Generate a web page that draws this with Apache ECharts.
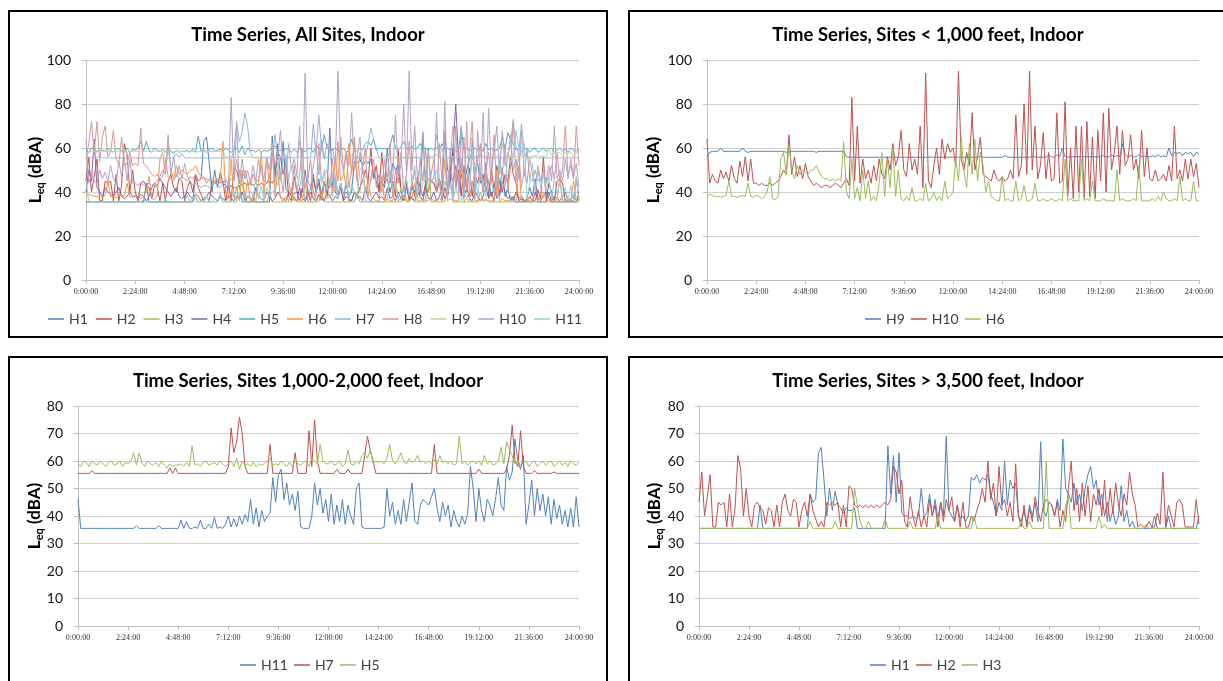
<!DOCTYPE html>
<html><head><meta charset="utf-8">
<script src="https://cdn.jsdelivr.net/npm/echarts@6/dist/echarts.min.js"></script>
<style>
html,body{margin:0;padding:0;background:#fff;overflow:hidden;width:1223px;height:681px;}
.panel{position:absolute;width:600px;height:328px;}
.frame{position:absolute;width:600px;height:328px;box-sizing:border-box;border:2px solid #000;pointer-events:none;}
</style>
</head><body>
<div class="panel" id="p1" style="left:8px;top:10px"></div><div class="frame" style="left:8px;top:10px"></div>
<div class="panel" id="p2" style="left:628px;top:10px"></div><div class="frame" style="left:628px;top:10px"></div>
<div class="panel" id="p3" style="left:8px;top:356px"></div><div class="frame" style="left:8px;top:356px"></div>
<div class="panel" id="p4" style="left:628px;top:356px"></div><div class="frame" style="left:628px;top:356px"></div>
<script>
// x tick labels (every 2:24:00 = 144 minutes)
const TICK_LABELS = ['0:00:00','2:24:00','4:48:00','7:12:00','9:36:00','12:00:00','14:24:00','16:48:00','19:12:00','21:36:00','24:00:00'];
const STEP_MIN = 8; // readings taken every 8 minutes, 181 readings from 0:00 to 24:00

const H1 = [
35.5,35.5,35.5,35.5,35.5,35.5,35.5,35.5,35.5,35.5,35.5,35.5,35.5,35.5,35.5,35.5,35.5,35.5,
35.5,35.5,35.5,35.5,44,35.5,35.5,35.5,35.5,35.5,35.5,35.5,35.5,35.5,35.5,35.5,35.5,35.5,
35.5,35.5,35.5,35.5,48,45,46,63,65,53,40,50,42,49,44,43,41,43,
42,42,43,35.5,35.5,35.5,35.5,35.5,35.5,35.5,35.5,35.5,35.5,35.5,65.5,48,62,45,
63,41,40,40,39,40,39,40,50,40,41,48,40,46,39,45,40,69,
42,40,38,44,39,40,38,40,54,53,55,52,54,53,55,48,45,40,
45,42,60,44,53,50,52,40,38,42,37,44,40,45,38,67,42,40,
45,44,40,46,42,68,50,48,45,52,44,48,42,50,55,58,50,53,
44,48,40,45,38,42,37,40,51,38,42,36,38,35.5,35.5,35.5,35.5,35.5,
35.5,35.5,40,35.5,35.5,35.5,35.5,40,35.5,35.5,35.5,35.5,35.5,35.5,35.5,35.5,35.5,35.5,40];
const H2 = [
45,56,40,47,55,36,36,45,44,45,36,48,36,43,62,57,40,50,
40,36,44,45,43,42,37,43,42,36,44,36,45,48,42,40,46,45,
36,42,45,40,48,42,39,36,38,36,45,44,45,44,45,36,44,36,
51,50,44,43,44,43,44,43,44,43,44,43,44,45,44,46,58,56,
48,53,38,36,47,40,36,42,36,40,36,46,40,44,36,45,38,46,
42,47,38,44,36,45,36,36,40,38,42,45,50,45,60,46,52,40,
58,44,46,40,45,38,59,40,36,44,36,43,38,47,42,38,44,46,
45,44,40,45,36,42,38,50,60,42,50,38,52,40,51,38,48,44,
50,40,53,38,50,41,52,44,40,48,44,56,48,44,36,37,36,36,
38,36,36,41,37,56,36,44,40,36,45,46,44,36,36,36,36,46,37];
const H3 = [
35.5,35.5,35.5,35.5,35.5,35.5,35.5,35.5,35.5,35.5,35.5,35.5,35.5,35.5,35.5,35.5,35.5,35.5,
35.5,35.5,35.5,35.5,35.5,35.5,35.5,35.5,35.5,35.5,35.5,35.5,35.5,35.5,35.5,35.5,35.5,35.5,
35.5,35.5,35.5,35.5,38,35.5,35.5,35.5,35.5,35.5,35.5,35.5,35.5,38,35.5,35.5,35.5,35.5,
35.5,35.5,50,44,38,35.5,35.5,38,35.5,35.5,35.5,35.5,35.5,39,35.5,35.5,35.5,35.5,
35.5,35.5,35.5,35.5,38,35.5,35.5,35.5,35.5,35.5,35.5,35.5,35.5,35.5,40,35.5,35.5,35.5,
35.5,35.5,35.5,35.5,35.5,35.5,35.5,35.5,35.5,40,35.5,35.5,35.5,35.5,35.5,35.5,35.5,35.5,
35.5,35.5,35.5,35.5,35.5,35.5,35.5,35.5,38,35.5,35.5,38,35.5,35.5,35.5,35.5,35.5,60,
35.5,35.5,35.5,35.5,35.5,35.5,44,47,35.5,35.5,35.5,35.5,35.5,35.5,35.5,35.5,35.5,35.5,
40,35.5,37,35.5,35.5,35.5,35.5,35.5,35.5,35.5,35.5,35.5,35.5,35.5,35.5,35.5,35.5,37,
35.5,35.5,35.5,35.5,35.5,35.5,35.5,35.5,35.5,35.5,35.5,35.5,35.5,35.5,35.5,35.5,35.5,35.5,35.5];
const H4 = [
40,50,45,64,42,40,38,42,40,39,38,40,42,38,37,38,40,38,
38,37,39,38,36,38,42,44,43,46,44,42,40,38,40,42,38,37,
38,40,38,37,39,38,36,37,38,40,38,37,36,38,37,36,38,37,
36,38,37,40,36,38,37,36,42,38,37,36,40,38,36,37,40,38,
37,36,40,38,37,36,42,37,36,38,40,37,36,39,37,36,40,38,
36,38,37,42,36,38,37,36,40,37,38,36,42,37,36,38,40,37,
38,36,42,37,38,36,40,37,36,45,38,37,36,40,38,36,42,37,
37,40,36,38,42,37,38,45,60,80,55,40,38,42,37,36,40,38,
36,38,42,37,40,36,48,38,45,40,37,38,36,40,37,38,36,37,
42,38,46,37,36,38,40,37,36,38,37,36,38,40,36,37,38,36,37];
const H5 = [
59,58,60,59.5,58,60,59,58.5,60,59,58,59.5,60,58.5,59,60,58,59.5,
59,60,63,58.5,63,59,58,60,59,58.5,59.5,58,60,58.5,57.5,59,58,58.5,
58.5,59,58,59.5,58,65.5,58.5,59,58,59.5,60,58.5,59,59.5,58.5,60,59,58,
59,60,58,61,57,60,58.5,59,58,59.5,58,59,58.5,59,60,61,58.5,59,
58.5,60,59,58,59.5,58,60,59,58.5,59.5,60,58,61,60,59,66,60,59,
59,60,58.5,59,60,58,59,64,59,58.5,60,59,62,63,61,64,59,60,
59.5,60,59,61,66,60,59,60.5,63,60,59,61,59.5,60,62,59.5,60,59,
60,59,60.5,59,62,59.5,60,59,60,58.5,59,69,59,60,58.5,59.5,60,59,
60,58.5,62,59,60,58.5,59,60,65,59,67,64,62,59,60,58.5,59.5,60,
58,59.5,60,58,59,60,58.5,59.5,60,58,59,60,58.5,59.5,58,60,59,58.5,59.5];
const H6 = [
38,39,38.5,38,38,37.5,38,38.5,45,38,38,37.5,38,38.5,38,44,38,37.5,
38.5,38,37,38,40,47,37,36.5,38,55,58,48,61,50,46,52,48,50,
49,48,50,50,52,49,47,46,46,45,46,45,46,45,63,40,37,55,
37,42,36,50,37,45,36,38,36,44,58,38,55,42,60,38,50,37,
36,38,36,42,36,36,37,36,44,36,37,40,36,38,36,45,37,38,
40,55,45,65,50,42,62,48,64,45,58,52,40,45,38,37,36,36,
47,36,37,36,36,45,36,37,43,36,36,37,44,36,36,37,36,36,
37,36,36,37,36,55,36,37,36,36,36,55,36,37,36,45,36,36,
36,37,36,36,36,36,50,36,37,36,36,36,37,36,52,36,36,36,
36,37,36,38,36,40,37,36,36,37,36,47,36,37,36,36,45,36,36];
const H7 = [
55.5,55.5,55.5,55.5,55.5,56.5,55.5,55.5,55.5,55.5,55.5,55.5,55.5,55.5,55.5,55.5,55.5,55.5,
55.5,55.5,55.5,55.5,55.5,55.5,55.5,55.5,55.5,55.5,55.5,55.5,55.5,55.5,55.5,57.5,55.5,57.5,
55.5,55.5,55.5,55.5,55.5,55.5,55.5,55.5,55.5,55.5,55.5,55.5,55.5,55.5,55.5,55.5,55.5,55.5,
58,72,63,67,76,70,58,55.5,55.5,55.5,55.5,55.5,55.5,55.5,55.5,66,55.5,55.5,
55.5,55.5,55.5,55.5,55.5,55.5,63,55.5,55.5,55.5,55.5,71,58,75,60,55.5,55.5,55.5,
55.5,55.5,55.5,57,55.5,55.5,55.5,57,55.5,55.5,55.5,55.5,55.5,62,69,64,60,55.5,
55.5,55.5,55.5,55.5,55.5,55.5,55.5,55.5,55.5,55.5,55.5,55.5,55.5,55.5,55.5,55.5,55.5,55.5,
55.5,55.5,66,55.5,55.5,55.5,55.5,55.5,55.5,55.5,55.5,55.5,55.5,55.5,55.5,55.5,55.5,55.5,
57,55.5,55.5,55.5,55.5,55.5,55.5,55.5,55.5,55.5,57,62,73,60,58,71,58,55.5,
55.5,55.5,56.5,55.5,55.5,55.5,55.5,55.5,55.5,56,55.5,55.5,55.5,55.5,55.5,55.5,55.5,55.5,55.5];
const H8 = [
55,62,72,58,72,54,65,70,56,58,68,55,53,65,52,53,58,52,
53,52,69,53,52,50,48,47,48,46,47,55,47,46,45,48,46,47,
46,45,47,46,48,45,46,47,44,46,45,44,46,45,44,45,44,46,
45,55,44,46,50,45,43,48,44,46,52,45,44,47,58,45,43,48,
40,56,45,38,52,40,48,60,42,45,55,40,38,62,44,48,50,42,
55,40,63,45,48,58,42,50,65,44,40,52,60,38,46,55,42,48,
40,55,45,62,38,50,44,58,40,48,63,42,50,38,55,45,60,40,
48,55,40,62,45,68,38,55,70,42,60,48,65,40,58,72,45,55,
62,40,50,58,44,66,38,55,48,62,40,52,72,45,58,42,50,44,
55,48,42,52,45,50,44,48,52,46,58,45,50,70,48,52,46,70,52];
const H9 = [
56,58,58.5,58.5,58.5,60,58.5,58.5,58.5,58.5,58.5,58.5,58.5,60,58.5,58,58.5,58.5,
58.5,58.5,58.5,58.5,58.5,58.5,58.5,58.5,58.5,58.5,58.5,58,58.5,58.5,58.5,58.5,58.5,58.5,
58.5,58.5,58.5,58.5,58,58.5,58.5,58.5,58.5,58.5,58.5,58.5,58.5,58.5,58.5,56,55.8,55.8,
55.8,55.8,55.8,55.8,55.8,55.8,55.8,55.8,55.8,55.8,55.8,55.8,55.8,55.8,55.8,55.8,55.8,55.8,
55.8,55.8,55.8,55.8,55.8,55.8,55.8,55.8,55.8,55.8,55.8,55.8,55.8,55.8,55.8,55.8,55.8,55.8,
55.8,55.8,55.8,55.8,55.8,55.8,55.8,55.8,55.8,55.8,56.3,55.8,55.8,55.8,55.8,55.8,55.8,55.8,
55.8,56.5,55.8,55.8,55.8,55.8,55.8,55.8,55.8,55.8,55.8,56.3,55.8,55.8,55.8,55.8,55.8,57,
56,55.8,57,56,60,56,55.8,56,56,56,56,56,56,56,56,56,56,56,
56,56.5,56,56,57,56,56.5,56,62,57,56,56.5,56,56,57,56,56.5,56,
56,56.5,56,57,56,56.5,56,60,56.5,58,57.5,58,56.5,58,57.5,58,56,58,57.5];
const H10 = [
64,44,48,45,44,50,46,49,45,52,46,44,54,47,56,45,55,44,
44,43,44,43,43,44,43,44,45,47,50,48,66,48,56,47,52,46,
53,47,45,43,44,43,42,43,43,42,43,44,43,42,44,46,43,83,
45,70,44,55,46,50,44,52,45,55,48,46,56,50,62,52,56,68,
50,47,62,50,55,48,70,42,94,45,42,52,60,48,64,55,62,58,
60,52,95,55,50,58,52,76,50,56,65,48,47,46,45,50,46,45,
47,45,46,50,46,75,47,52,80,48,95,50,70,46,52,67,46,58,
45,46,76,44,45,81,38,60,37,70,40,70,37,72,38,65,37,68,
45,76,40,78,50,58,70,48,68,52,55,66,50,55,46,68,47,60,
46,45,50,45,46,48,45,52,45,70,46,50,45,55,46,55,47,53,42];
const H11 = [
46,35.5,35.5,35.5,35.5,35.5,35.5,35.5,35.5,35.5,35.5,35.5,35.5,35.5,35.5,35.5,35.5,35.5,
35.5,35.5,35.5,36.5,35.5,35.5,35.5,35.5,35.5,35.5,35.5,36.5,35.5,35.5,35.5,35.5,35.5,35.5,
35.5,38.5,35.5,38,35.5,35.5,36,35.5,38.5,35.5,35.5,37,35.5,39.5,35.5,36,35.5,37,
40,36,39,36,40,37,40.5,38,46,37,43,36,42,38,40,41,54,45,
55,57,46,52,44,48,42,49,36,35.5,35.5,35.5,40,52,44,50,41,46,
38,48,37,44,38,46,37,44,40,37,50,52,36,35.5,35.5,35.5,35.5,35.5,
35.5,35.5,36,50,40,45,37,42,37,46,38,45,52,38,37,44,46,45,
44,47,50,43,38,45,40,44,36,42,38,36,40,37,41,58,50,38,
50,42,38,46,44,40,46,54,44,42,58,53,56,68,60,57,62,37,
44,53,40,50,42,48,40,47,37,46,39,44,37,42,36,43,36,47,36];

const SERIES = {H1,H2,H3,H4,H5,H6,H7,H8,H9,H10,H11};

const PANELS = [
  {id:'p1', title:'Time Series, All Sites, Indoor',
   names:['H1','H2','H3','H4','H5','H6','H7','H8','H9','H10','H11'],
   colors:['#4F81BD','#C0504D','#9BBB59','#8064A2','#4BACC6','#F79646','#95B3D7','#D99694','#C3D69B','#B3A2C7','#93CDDD'],
   ymax:100, yint:20, grid:{left:78, top:50, width:493, height:220}, nameGap:40, legendLeft:40, legendGap:8},
  {id:'p2', title:'Time Series, Sites < 1,000 feet, Indoor',
   names:['H9','H10','H6'], colors:['#4F81BD','#C0504D','#9BBB59'],
   ymax:100, yint:20, grid:{left:79, top:50, width:492, height:220}, nameGap:43, legendLeft:237, legendGap:6},
  {id:'p3', title:'Time Series, Sites 1,000-2,000 feet, Indoor',
   names:['H11','H7','H5'], colors:['#4F81BD','#C0504D','#9BBB59'],
   ymax:80, yint:10, grid:{left:70, top:50, width:501, height:220}, nameGap:33, legendLeft:232, legendGap:6},
  {id:'p4', title:'Time Series, Sites > 3,500 feet, Indoor',
   names:['H1','H2','H3'], colors:['#4F81BD','#C0504D','#9BBB59'],
   ymax:80, yint:10, grid:{left:71, top:50, width:500, height:220}, nameGap:34, legendLeft:242, legendGap:6}
];

function toPairs(arr){ return arr.map((v,i)=>[i*STEP_MIN, v]); }

PANELS.forEach(p=>{
  const chart = echarts.init(document.getElementById(p.id), null, {renderer:'canvas'});
  chart.setOption({
    animation:false,
    backgroundColor:'transparent',
    title:{text:p.title, left:'center', top:16, padding:0,
      textStyle:{fontFamily:'Lato', fontWeight:'bold', fontSize:18.5, color:'#000'}},
    legend:{left:p.legendLeft, top:302, padding:0, itemGap:p.legendGap, icon:'rect', itemWidth:16, itemHeight:1.5,
      data:p.names, textStyle:{fontFamily:'Lato', fontSize:14, color:'#404040'}},
    grid:Object.assign({outerBoundsMode:'none', containLabel:false}, p.grid),
    xAxis:{type:'value', min:0, max:1440, interval:144,
      axisLine:{show:true, lineStyle:{color:'#bfbfbf', width:1}},
      axisTick:{show:true, length:4, lineStyle:{color:'#bfbfbf'}},
      splitLine:{show:false},
      axisLabel:{showMinLabel:true, showMaxLabel:true, margin:8, fontFamily:'Liberation Serif', fontSize:8, color:'#333',
        formatter:v=>TICK_LABELS[Math.round(v/144)]}},
    yAxis:{type:'value', min:0, max:p.ymax, interval:p.yint,
      axisLine:{show:true, lineStyle:{color:'#bfbfbf', width:1}},
      axisTick:{show:true, length:4, lineStyle:{color:'#bfbfbf'}},
      splitLine:{show:true, lineStyle:{color:'#d0d0d0', width:1}},
      axisLabel:{margin:15, fontFamily:'Lato', fontSize:14, color:'#111'},
      name:'{a|L}{b|eq}{a| (dBA)}', nameLocation:'middle', nameGap:p.nameGap, nameRotate:90, nameMoveOverlap:false,
      nameTextStyle:{rich:{
        a:{fontFamily:'Lato', fontWeight:'bold', fontSize:17, color:'#000', lineHeight:20},
        b:{fontFamily:'Lato', fontWeight:'bold', fontSize:11, color:'#000', lineHeight:7, verticalAlign:'bottom'}}}},
    series:p.names.map((n,i)=>({
      name:n, type:'line', data:toPairs(SERIES[n]), symbol:'none', showSymbol:false,
      color:p.colors[i], lineStyle:{width:1, color:p.colors[i]}, z:2+i}))
  });
});
</script>
</body></html>
